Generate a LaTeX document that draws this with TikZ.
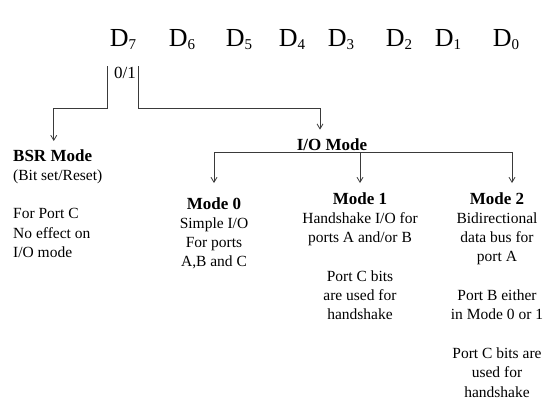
\documentclass[tikz,border=0pt]{standalone}
\usepackage{fontspec}
\setmainfont{Liberation Serif}
\usetikzlibrary{arrows.meta,positioning}
\definecolor{WireGray}{RGB}{58,58,58}
\newcommand{\dbit}[1]{D\raisebox{-3pt}{\fontsize{15}{15}\selectfont #1}}
\newcommand{\modehead}[1]{{\bfseries\fontsize{17}{19.3}\selectfont #1}}
\begin{document}
\begin{tikzpicture}[x=1pt,y=-1pt,>={Straight Barb[length=5pt,width=6pt]},font=\fontsize{15.5}{19.3}\selectfont,
  bitlbl/.style={inner sep=0pt,anchor=base,font=\fontsize{26}{26}\selectfont},
  modetxt/.style={inner sep=0pt,align=center,anchor=north},
  wire/.style={WireGray,line width=0.8pt}]
\useasboundingbox (0,0) rectangle (557,400);
\node[bitlbl] (d7) at (123,46){\dbit{7}};\node[bitlbl] (d6) at (182,46){\dbit{6}};\node[bitlbl] (d5) at (239,46){\dbit{5}};\node[bitlbl] (d4) at (292,46){\dbit{4}};
\node[bitlbl] (d3) at (341,46){\dbit{3}};\node[bitlbl] (d2) at (399,46){\dbit{2}};\node[bitlbl] (d1) at (448,46){\dbit{1}};\node[bitlbl] (d0) at (506,46){\dbit{0}};
\node[inner sep=0pt,anchor=base,font=\fontsize{17}{17}\selectfont] (bit) at (125,78){0/1};
\node[inner sep=0pt,align=left,anchor=north west] (bsr) at (13,149){\modehead{BSR Mode}\\(Bit set/Reset)\\[19.3pt]For Port C\\No effect on\\I/O mode};
\node[inner sep=0pt,inner ysep=1pt,anchor=south,font=\bfseries\fontsize{17}{17}\selectfont] (io) at (332,152){I/O Mode};
\node[modetxt] (m0) at (214,197){\modehead{Mode 0}\\Simple I/O\\For ports\\A,B and C};
\node[modetxt] (m1) at (360,192){\modehead{Mode 1}\\Handshake I/O for\\ports A and/or B\\[19.3pt]Port C bits\\are used for\\handshake};
\node[modetxt] (m2) at (497,192){\modehead{Mode 2}\\Bidirectional\\data bus for\\port A\\[19.3pt]Port B either\\in Mode 0 or 1\\[19.3pt]Port C bits are\\used for\\handshake};
\draw[wire,->,shorten >=8pt] ([xshift=-7pt]bit.north west) -- ++(0,42) -| ([xshift=-4pt]bsr.north);
\draw[wire,->,shorten >=8pt] ([xshift=2pt]bit.north east) -- ++(0,42) -| ([xshift=-12pt]io.north);
\draw[wire,->,shorten >=14pt] (io.south) -| (m0.north);\draw[wire,->,shorten >=9pt] (io.south -| m1.north) -- (m1.north);
\draw[wire,->,shorten >=9pt] (io.south) -| ([xshift=15pt]m2.north);
\end{tikzpicture}
\end{document}
